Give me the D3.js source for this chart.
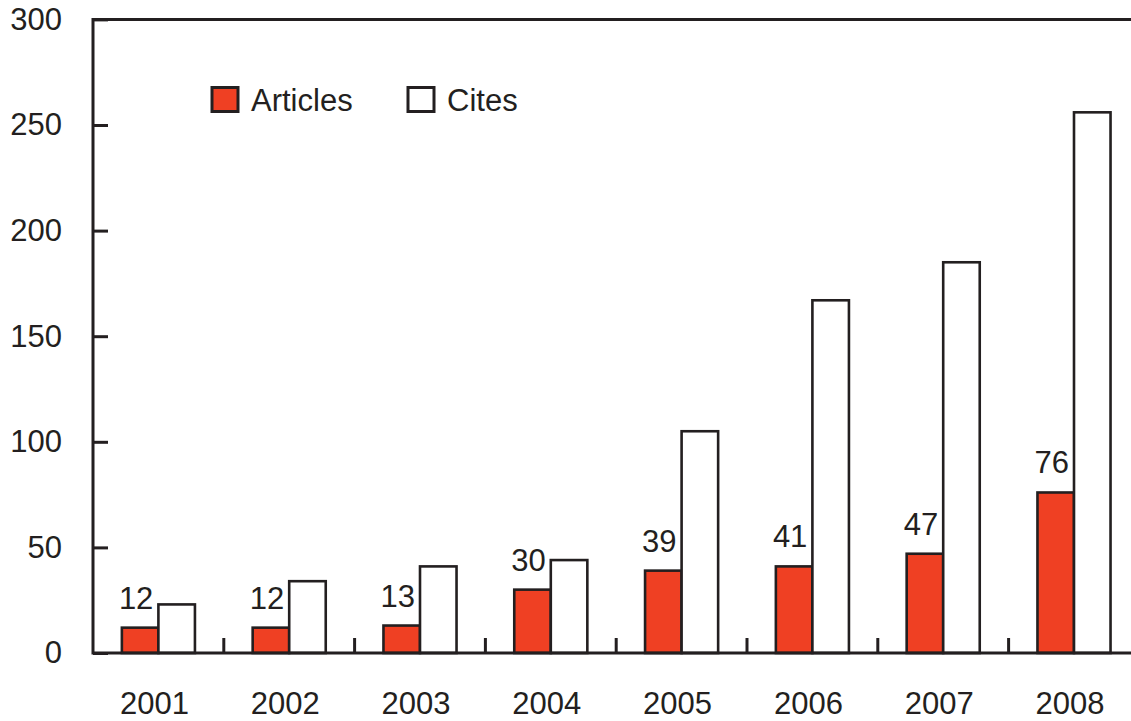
<!DOCTYPE html>
<html>
<head>
<meta charset="utf-8">
<script src="https://cdn.jsdelivr.net/npm/d3@7"></script>
<style>
  body { margin: 0; background: #fff; }
  text { font-family: "Liberation Sans", Arial, Helvetica, sans-serif; fill: #231f20; }
</style>
</head>
<body>
<div id="chart"></div>
<script>
// dados do grafico
const years = ["2001", "2002", "2003", "2004", "2005", "2006", "2007", "2008"];
const articles = [12, 12, 13, 30, 39, 41, 47, 76];
const cites = [23, 34, 41, 44, 105, 167, 185, 256];
const series = ["Articles", "Cites"];
const yTicks = [0, 50, 100, 150, 200, 250, 300];

const width = 1131;
const height = 721;
const ink = "#231f20";
const red = "#ef4023";
const fontSize = "31px";

// area do grafico (a direita passa da borda da imagem)
const plotLeft = 93, plotTop = 19.4, plotBottom = 653;
const step = 130.8;

const svg = d3.select("#chart")
  .append("svg")
  .attr("width", width)
  .attr("height", height);

const xScale = d3.scaleBand()
  .domain(years)
  .range([plotLeft, plotLeft + step * years.length])
  .padding(0);

const inner = d3.scaleBand()
  .domain(series)
  .range([0, xScale.bandwidth()])
  .paddingInner(0)
  .paddingOuter(0.79);

const yScale = d3.scaleLinear()
  .domain([0, 300])
  .range([plotBottom, plotTop]);

const rows = years.map((y, i) => ({ year: y, Articles: articles[i], Cites: cites[i] }));

// barras
const groups = svg.selectAll(".year")
  .data(rows)
  .join("g")
  .attr("class", "year")
  .attr("transform", d => `translate(${xScale(d.year)},0)`);

groups.selectAll("rect")
  .data(d => series.map(s => ({ key: s, value: d[s] })))
  .join("rect")
  .attr("x", d => inner(d.key))
  .attr("y", d => yScale(d.value))
  .attr("width", inner.bandwidth())
  .attr("height", d => plotBottom - yScale(d.value))
  .attr("fill", d => d.key === "Articles" ? red : "#fff")
  .attr("stroke", ink)
  .attr("stroke-width", 2.6);

// rotulos dos artigos
groups.append("text")
  .attr("x", inner("Articles") + inner.bandwidth() / 2 - 4)
  .attr("y", d => yScale(d.Articles) - 19)
  .attr("text-anchor", "middle")
  .attr("font-size", fontSize)
  .text(d => d.Articles);

// eixo y com ticks para dentro
const yAxis = svg.append("g")
  .attr("transform", `translate(${plotLeft},0)`)
  .call(d3.axisLeft(yScale).tickValues(yTicks).tickSize(-15).tickPadding(31));
yAxis.select(".domain").remove();
yAxis.selectAll("line").attr("stroke", ink).attr("stroke-width", 3);
yAxis.selectAll("text")
  .attr("font-size", fontSize)
  .attr("font-family", "Liberation Sans, Arial, sans-serif")
  .attr("fill", ink);

// eixo x: so os rotulos dos anos
const xAxis = svg.append("g")
  .attr("transform", `translate(-4,${plotBottom})`)
  .call(d3.axisBottom(xScale).tickSize(0).tickPadding(39));
xAxis.select(".domain").remove();
xAxis.selectAll("text")
  .attr("font-size", fontSize)
  .attr("font-family", "Liberation Sans, Arial, sans-serif")
  .attr("fill", ink);

// ticks entre os anos
svg.selectAll(".sep")
  .data(years.slice(1))
  .join("line")
  .attr("class", "sep")
  .attr("x1", d => xScale(d))
  .attr("x2", d => xScale(d))
  .attr("y1", plotBottom)
  .attr("y2", plotBottom - 15)
  .attr("stroke", ink)
  .attr("stroke-width", 3);

// moldura: linha de cima, esquerda e base
svg.append("path")
  .attr("d", `M${width + 10},${yScale(300)}H${plotLeft}V${plotBottom}H${width + 10}`)
  .attr("fill", "none")
  .attr("stroke", ink)
  .attr("stroke-width", 3);

// legenda
const legend = svg.selectAll(".legend")
  .data(series)
  .join("g")
  .attr("class", "legend")
  .attr("transform", (d, i) => `translate(${212 + i * 196},87.5)`);

legend.append("rect")
  .attr("width", 26)
  .attr("height", 24)
  .attr("fill", d => d === "Articles" ? red : "#fff")
  .attr("stroke", ink)
  .attr("stroke-width", 3);

legend.append("text")
  .attr("x", 39)
  .attr("y", 23)
  .attr("font-size", fontSize)
  .text(d => d);
</script>
</body>
</html>
